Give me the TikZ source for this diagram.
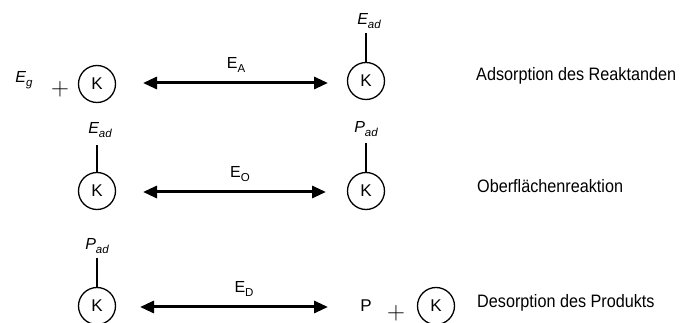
\documentclass[tikz,border=0pt]{standalone}
\usepackage{fontspec}
\setmainfont{Liberation Sans}
\newfontfamily\labfont[FakeStretch=0.9]{Liberation Sans}
\usetikzlibrary{arrows.meta}
\newcommand{\lowsub}[1]{\raisebox{-4pt}{\fontsize{11.5}{13}\selectfont #1}}
\begin{document}
\begin{tikzpicture}[x=1pt,y=-1pt,
  cat/.style={circle, draw, line width=1.3pt, minimum size=37pt, inner sep=0pt, font=\fontsize{17}{19}\selectfont},
  rxn/.style={{Triangle[length=14pt,width=12pt]}-{Triangle[length=14pt,width=12pt]}, line width=3pt},
  stem/.style={line width=1.4pt},
  lab/.style={font=\labfont\fontsize{18}{21}\selectfont, anchor=west, inner sep=0pt},
  ene/.style={font=\fontsize{16}{18}\selectfont, inner sep=0pt},
  ads/.style={font=\fontsize{16}{18}\selectfont\itshape, inner sep=0pt},
  plus/.style={font=\fontsize{24}{26}\selectfont, inner sep=0pt}
]
\useasboundingbox (0,0) rectangle (681,323);

% Row 1
\node[ads] (eg) at (24,80) {E\lowsub{g}};
\node[plus] (p1) at (60,89) {$+$};
\node[cat] (k1) at (97,84) {K};
\node[cat] (k2) at (366,81) {K};
\coordinate (a1l) at (143,83);
\coordinate (a1r) at (328,83);
\draw[rxn] (a1l) -- (a1r);
\node[ene] (ea) at (236,65) {E\lowsub{A}};
\node[ads] (ead1) at (369,21) {E\lowsub{ad}};
\coordinate (s1) at (366,33);
\draw[stem] (k2.north) -- (s1);
\node[lab] (t1) at (476,76) {Adsorption des Reaktanden};

% Row 2
\node[cat] (k3) at (97,191) {K};
\node[cat] (k4) at (366,191) {K};
\coordinate (s2) at (97,145);
\coordinate (s3) at (366,143);
\draw[stem] (k3.north) -- (s2);
\draw[stem] (k4.north) -- (s3);
\node[ads] (ead2) at (100,130) {E\lowsub{ad}};
\node[ads] (pad1) at (366,129) {P\lowsub{ad}};
\coordinate (a2l) at (143,192);
\coordinate (a2r) at (326,192);
\draw[rxn] (a2l) -- (a2r);
\node[ene] (eo) at (240,174) {E\lowsub{O}};
\node[lab] (t2) at (477,186) {Oberflächenreaktion};

% Row 3
\node[cat] (k5) at (97,306) {K};
\coordinate (s4) at (97,258);
\draw[stem] (k5.north) -- (s4);
\node[ads] (pad2) at (97,246) {P\lowsub{ad}};
\coordinate (a3l) at (140,307);
\coordinate (a3r) at (328,307);
\draw[rxn] (a3l) -- (a3r);
\node[ene] (ed) at (244,289) {E\lowsub{D}};
\node[ene, font=\fontsize{17}{19}\selectfont] (pp) at (366,306) {P};
\node[plus] (p2) at (396,313) {$+$};
\node[cat] (k6) at (436,306) {K};
\node[lab] (t3) at (477,303) {Desorption des Produkts};
\end{tikzpicture}
\end{document}
